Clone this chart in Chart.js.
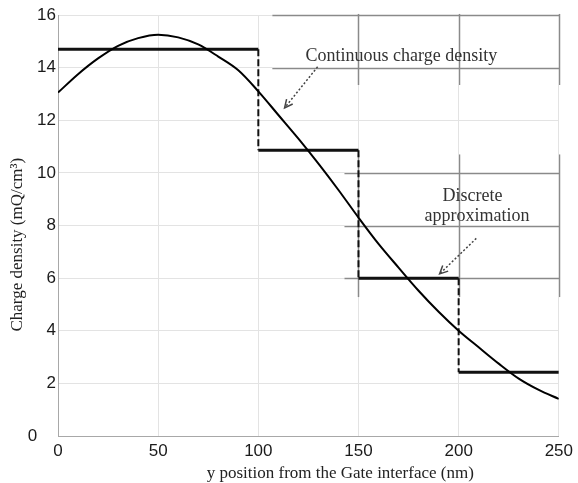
<!DOCTYPE html>
<html>
<head>
<meta charset="utf-8">
<script src="https://cdn.jsdelivr.net/npm/chart.js@4"></script>
<style>
  html, body { margin: 0; padding: 0; background: #fff; }
  #wrap { width: 578px; height: 483px; }
</style>
</head>
<body>
<div id="wrap"><canvas id="grafico"></canvas></div>
<script>
// ---------------- Dados ----------------
const posicoes = [0, 10, 20, 30, 40, 50, 60, 70, 80, 90, 100, 110, 120, 130, 140, 150, 160, 170, 180, 190, 200, 210, 220, 230, 240, 250];
const densidade = [13.05, 13.75, 14.35, 14.83, 15.12, 15.25, 15.15, 14.88, 14.42, 13.9, 13.1, 12.2, 11.3, 10.35, 9.35, 8.3, 7.3, 6.4, 5.52, 4.72, 4.0, 3.37, 2.75, 2.18, 1.75, 1.41];
const limitesDegrau = [0, 100, 150, 200, 250];
const valoresDegrau = [14.7, 10.86, 6.0, 2.42];
const ticksX = [0, 50, 100, 150, 200, 250];
const ticksY = [0, 2, 4, 6, 8, 10, 12, 14, 16];

const nb = n => '\u00A0'.repeat(n);

// curva continua
const pontosCurva = posicoes.map((x, i) => ({ x, y: densidade[i] }));

// aproximacao discreta: patamares (cheios) e saltos (tracejados), separados por null
const patamares = [];
valoresDegrau.forEach((v, i) => {
    patamares.push({ x: limitesDegrau[i], y: v }, { x: limitesDegrau[i + 1], y: v }, { x: limitesDegrau[i + 1], y: null });
});
const saltos = [];
for (let i = 1; i < valoresDegrau.length; i++) {
    saltos.push({ x: limitesDegrau[i], y: valoresDegrau[i - 1] }, { x: limitesDegrau[i], y: valoresDegrau[i] }, { x: limitesDegrau[i], y: null });
}

// ---------------- Caixas de anotação ----------------
const caixas = [
    { x0: 107, x1: 250, y0: 13.34, y1: 16.04, linhasY: [16, 14], linhasX: [150, 200, 250] },
    { x0: 143, x1: 250, y0: 5.28, y1: 10.7, linhasY: [10, 8, 6], linhasX: [150, 200, 250] }
];
const textos = [
    { t: 'Continuous charge density', x: 171.4, y: 14.42 },
    { t: 'Discrete', x: 206.9, y: 9.1 },
    { t: 'approximation', x: 209.2, y: 8.34 }
];
const setas = [
    { de: [129.6, 14.03], para: [113.1, 12.47] },
    { de: [208.8, 7.51], para: [190.5, 6.16] }
];

const pluginCaixas = {
    id: 'caixas',
    beforeDatasetsDraw(chart) {
        const { ctx, scales: { x, y } } = chart;
        ctx.save();
        caixas.forEach(c => {
            const l = x.getPixelForValue(c.x0), r = x.getPixelForValue(c.x1);
            const t = y.getPixelForValue(c.y1), b = y.getPixelForValue(c.y0);
            ctx.fillStyle = '#fff';
            ctx.fillRect(l, t, r - l + 1, b - t);
            ctx.strokeStyle = '#8a8a8a';
            ctx.lineWidth = 1.5;
            c.linhasY.forEach(v => {
                const py = Math.round(y.getPixelForValue(v)) + 0.5;
                ctx.beginPath(); ctx.moveTo(l, py); ctx.lineTo(r + 1, py); ctx.stroke();
            });
            c.linhasX.forEach(v => {
                const px = Math.round(x.getPixelForValue(v)) + 0.5;
                ctx.beginPath(); ctx.moveTo(px, t); ctx.lineTo(px, b); ctx.stroke();
            });
        });
        ctx.restore();
    },
    afterDatasetsDraw(chart) {
        const { ctx, scales: { x, y } } = chart;
        ctx.save();
        ctx.font = '18px "Liberation Serif", "Times New Roman", serif';
        ctx.fillStyle = '#333';
        ctx.textAlign = 'center';
        ctx.textBaseline = 'middle';
        textos.forEach(s => ctx.fillText(s.t, x.getPixelForValue(s.x), y.getPixelForValue(s.y)));

        ctx.strokeStyle = '#444';
        setas.forEach(s => {
            const x0 = x.getPixelForValue(s.de[0]), y0 = y.getPixelForValue(s.de[1]);
            const x1 = x.getPixelForValue(s.para[0]), y1 = y.getPixelForValue(s.para[1]);
            ctx.lineWidth = 1.5;
            ctx.setLineDash([2, 2]);
            ctx.beginPath(); ctx.moveTo(x0, y0); ctx.lineTo(x1, y1); ctx.stroke();
            ctx.setLineDash([]);
            const ang = Math.atan2(y1 - y0, x1 - x0);
            const len = 9;
            ctx.beginPath();
            ctx.moveTo(x1 - len * Math.cos(ang - 0.45), y1 - len * Math.sin(ang - 0.45));
            ctx.lineTo(x1, y1);
            ctx.lineTo(x1 - len * Math.cos(ang + 0.45), y1 - len * Math.sin(ang + 0.45));
            ctx.stroke();
        });
        ctx.restore();
    }
};

// ---------------- Gráfico ----------------
const fonteTick = { family: '"Liberation Sans", Arial, sans-serif', size: 17 };
const fonteTitulo = { family: '"Liberation Serif", "Times New Roman", serif', size: 17, lineHeight: 1.1 };

new Chart(document.getElementById('grafico'), {
    type: 'line',
    data: {
        datasets: [
            {
                label: 'Continuous charge density',
                data: pontosCurva,
                borderColor: '#000',
                borderWidth: 2,
                pointRadius: 0,
                cubicInterpolationMode: 'monotone',
                fill: false
            },
            {
                label: 'Discrete approximation',
                data: patamares,
                borderColor: '#111',
                borderWidth: 3,
                pointRadius: 0,
                tension: 0,
                spanGaps: false,
                fill: false
            },
            {
                label: 'Saltos',
                data: saltos,
                borderColor: '#111',
                borderWidth: 2,
                borderDash: [7, 3],
                borderCapStyle: 'butt',
                pointRadius: 0,
                tension: 0,
                spanGaps: false,
                fill: false
            }
        ]
    },
    options: {
        responsive: true,
        maintainAspectRatio: false,
        animation: false,
        layout: { padding: { top: 15, right: 19, left: 0, bottom: 0 } },
        plugins: { legend: { display: false }, tooltip: { enabled: false } },
        scales: {
            x: {
                type: 'linear',
                min: 0, max: 250,
                afterFit: s => { s.height = 47; },
                afterBuildTicks: s => { s.ticks = ticksX.map(v => ({ value: v })); },
                grid: { color: '#e3e3e3', drawTicks: false },
                border: { color: '#a8a8a8' },
                ticks: { font: fonteTick, color: '#1a1a1a', padding: 5, maxRotation: 0 },
                title: {
                    display: true,
                    text: nb(15) + 'y position from the Gate interface (nm)',
                    font: fonteTitulo, color: '#222', padding: { top: 0, bottom: 0 }
                }
            },
            y: {
                min: 0, max: 16,
                afterFit: s => { s.width = 58; },
                afterBuildTicks: s => { s.ticks = ticksY.map(v => ({ value: v })); },
                grid: { color: '#e3e3e3', drawTicks: false },
                border: { color: '#a8a8a8' },
                ticks: {
                    font: fonteTick, color: '#1a1a1a', padding: 2,
                    callback: v => v === 0 ? '0' + nb(4) : String(v)
                },
                title: {
                    display: true,
                    text: 'Charge density (mQ/cm\u00B3)' + nb(9),
                    font: fonteTitulo, color: '#222', padding: { top: 8, bottom: 0 }
                }
            }
        }
    },
    plugins: [pluginCaixas]
});
</script>
</body>
</html>
